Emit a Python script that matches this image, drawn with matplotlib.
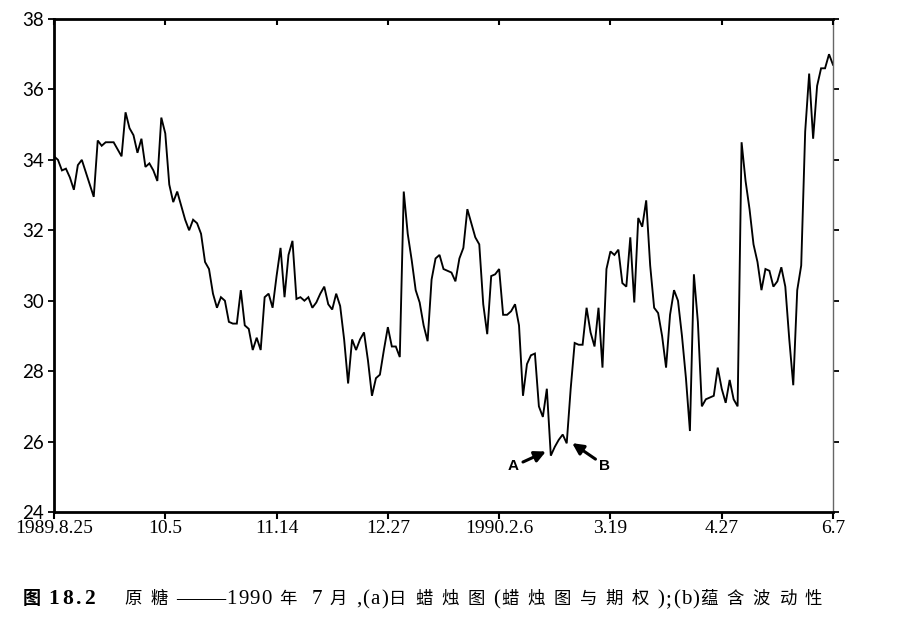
import matplotlib
matplotlib.use("Agg")
import matplotlib.pyplot as plt
import numpy as np

# ---- data (daily closes) ----
price = [
    34.1, 34.0, 33.7, 33.75, 33.5, 33.15, 33.85, 34.0, 33.65, 33.3,
    32.95, 34.55, 34.4, 34.5, 34.5, 34.5, 34.3, 34.1, 35.35, 34.9,
    34.7, 34.2, 34.6, 33.8, 33.9, 33.7, 33.4, 35.2, 34.75, 33.3,
    32.8, 33.1, 32.7, 32.3, 32.0, 32.3, 32.2, 31.9, 31.1, 30.9,
    30.2, 29.8, 30.1, 30.0, 29.4, 29.35, 29.35, 30.3, 29.3, 29.2,
    28.6, 28.95, 28.6, 30.1, 30.2, 29.8, 30.7, 31.5, 30.1, 31.3,
    31.7, 30.05, 30.1, 30.0, 30.1, 29.8, 29.95, 30.2, 30.4, 29.9,
    29.75, 30.2, 29.85, 28.9, 27.65, 28.9, 28.6, 28.9, 29.1, 28.3,
    27.3, 27.8, 27.9, 28.6, 29.25, 28.7, 28.7, 28.4, 33.1, 31.9,
    31.15, 30.3, 29.95, 29.3, 28.85, 30.6, 31.2, 31.3, 30.9, 30.85,
    30.8, 30.55, 31.2, 31.5, 32.6, 32.2, 31.8, 31.6, 29.9, 29.05,
    30.7, 30.75, 30.9, 29.6, 29.6, 29.7, 29.9, 29.3, 27.3, 28.2,
    28.45, 28.5, 27.0, 26.7, 27.5, 25.6, 25.85, 26.05, 26.2, 25.95,
    27.5, 28.8, 28.75, 28.75, 29.8, 29.1, 28.7, 29.8, 28.1, 30.9,
    31.4, 31.3, 31.45, 30.5, 30.4, 31.8, 29.95, 32.35, 32.1, 32.85,
    31.0, 29.8, 29.65, 29.0, 28.1, 29.6, 30.3, 30.0, 29.0, 27.8,
    26.3, 30.75, 29.4, 27.0, 27.2, 27.25, 27.3, 28.1, 27.5, 27.1,
    27.75, 27.2, 27.0, 34.5, 33.4, 32.6, 31.6, 31.1, 30.3, 30.9,
    30.85, 30.4, 30.55, 30.95, 30.4, 28.9, 27.6, 30.3, 31.0, 34.8,
    36.45, 34.6, 36.1, 36.6, 36.6, 37.0, 36.7,
]
days = list(range(len(price)))

tick_days = [0, 28, 56, 84, 112, 140, 168, 196]
tick_labels = ["1989.8.25", "10.5", "11.14", "12.27", "1990.2.6", "3.19", "4.27", "6.7"]
y_ticks = [24, 26, 28, 30, 32, 34, 36, 38]

point_a = 125
point_b = 129

caption_head = "图 18.2"
caption_body = "原糖——1990 年 7 月,(a)日蜡烛图(蜡烛图与期权);(b)蕴含波动性"

# ---- figure ----
W, H = 905, 629
fig = plt.figure(figsize=(W / 100, H / 100), dpi=100)
fig.patch.set_facecolor("white")
ax = fig.add_axes([54 / W, 1 - 512 / H, (833 - 54) / W, (512 - 19) / H])

ax.plot(days, price, color="black", lw=1.35, solid_joinstyle="miter")

ax.set_xlim(0, 196)
ax.set_ylim(24, 38)
ax.set_xticks(tick_days)
ax.set_xticklabels(tick_labels, family="Liberation Serif", fontsize=14)
ax.set_yticks(y_ticks)
ax.set_yticklabels([str(v) for v in y_ticks], family="Lato", fontsize=13.5)

ax.tick_params(axis="x", direction="out", length=5, width=1.5, pad=1)
ax.tick_params(axis="y", direction="out", length=4, width=1.3, pad=3, right=True)

top = ax.twiny()
top.set_xlim(ax.get_xlim())
top.set_xticks(tick_days)
top.set_xticklabels([])
top.tick_params(axis="x", direction="in", length=4, width=1.5, top=True, bottom=False,
                labeltop=False)
for s in top.spines.values():
    s.set_visible(False)

for side in ["left", "bottom", "top"]:
    ax.spines[side].set_linewidth(2.0)
ax.spines["right"].set_linewidth(1.0)
ax.spines["right"].set_color("#666666")

arrow = dict(arrowstyle="-|>,head_length=0.6,head_width=0.3", lw=2.2, color="black",
             shrinkA=1, shrinkB=2)
ax.annotate("A", xy=(days[point_a] - 0.6, price[point_a] + 0.15), xytext=(-35, -16),
            textcoords="offset pixels", ha="center", va="center",
            family="Liberation Sans", fontweight="bold", fontsize=11,
            arrowprops=arrow)
ax.annotate("B", xy=(days[point_b] + 0.8, price[point_b] + 0.05), xytext=(35, -24),
            textcoords="offset pixels", ha="center", va="center",
            family="Liberation Sans", fontweight="bold", fontsize=11,
            arrowprops=arrow)

# ---- caption: CJK glyphs spaced out, Latin set larger and tighter ----
renderer = fig.canvas.get_renderer()
fam = ["Liberation Serif", "Noto Sans CJK SC"]
DASH = "\u2014"


def tracked(text, x0, x1, baseline, cjk_size, latin_size, narrow_gap, **kw):
    objs, widths, kinds = [], [], []
    for i, ch in enumerate(text):
        cjk = ord(ch) >= 0x2E80
        if cjk:
            size = cjk_size
        elif ch == DASH:
            size = latin_size * 1.2
        else:
            size = latin_size
        t = fig.text(0, baseline / H, ch if ch != " " else "\u00a0", ha="left",
                     va="baseline", family=fam, fontsize=size, **kw)
        bb = t.get_window_extent(renderer)
        objs.append(t)
        widths.append(bb.width)
        nxt = text[i + 1] if i + 1 < len(text) else ""
        if ch == DASH:
            kinds.append("zero" if nxt == DASH else "narrow")
        else:
            kinds.append("wide" if cjk else "narrow")
    n_wide = sum(1 for k in kinds[:-1] if k == "wide")
    n_narrow = sum(1 for k in kinds[:-1] if k == "narrow")
    free = x1 - x0 - sum(widths) - n_narrow * narrow_gap
    gaps = {"wide": free / max(n_wide, 1), "narrow": narrow_gap, "zero": -1.0}
    x = x0
    for t, w, k in zip(objs, widths, kinds):
        t.set_x(x / W)
        x += w + gaps[k]


base = H - 604
tracked(caption_head, 23, 95, base, 13, 15.5, 3.0, fontweight="bold")
tracked(caption_body, 124, 823, base, 12.5, 15, 1.2)

fig.savefig("out.png", dpi=100)
